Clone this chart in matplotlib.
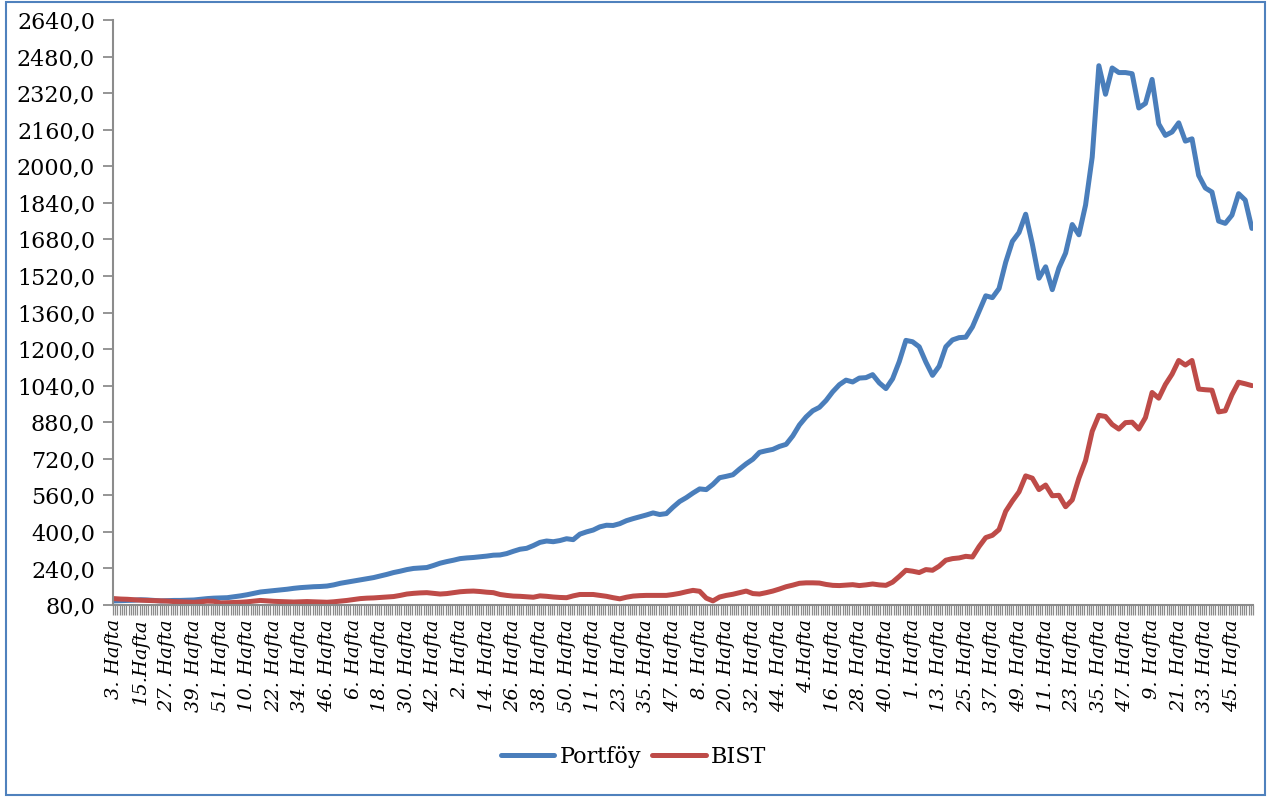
import numpy as np
import matplotlib
matplotlib.use("Agg")
import matplotlib.pyplot as plt
from matplotlib.patches import Rectangle

# Haftalik seri: her 3 haftada bir okunan degerler (0. hafta -> 513. hafta)
hafta_adimi = 3
toplam_hafta = 514

portfoy = [
    98, 99, 100, 101, 103, 102, 100, 98, 99, 100,
    100, 101, 102, 105, 108, 110, 111, 112, 116, 120,
    125, 131, 137, 140, 143, 146, 149, 153, 156, 158,
    160, 161, 163, 168, 175, 180, 185, 190, 195, 200,
    207, 214, 222, 228, 235, 240, 242, 244, 253, 263,
    270, 276, 283, 286, 288, 291, 294, 298, 299, 305,
    315, 324, 328, 340, 354, 360, 357, 362, 370, 366,
    390, 400, 408, 422, 429, 428, 436, 449, 458, 466,
    474, 483, 476, 480, 508, 533, 550, 570, 588, 585,
    608, 637, 643, 650, 675, 698, 718, 748, 755, 761,
    774, 783, 820, 868, 903, 930, 945, 975, 1013, 1044,
    1064, 1056, 1073, 1075, 1088, 1052, 1027, 1070, 1145, 1238,
    1232, 1210, 1143, 1085, 1125, 1210, 1240, 1250, 1252, 1297,
    1365, 1433, 1425, 1465, 1580, 1671, 1710, 1790, 1660, 1510,
    1560, 1460, 1555, 1620, 1745, 1700, 1830, 2040, 2440, 2315,
    2430, 2410, 2410, 2405, 2255, 2275, 2380, 2185, 2135, 2150,
    2190, 2110, 2120, 1960, 1905, 1887, 1760, 1750, 1786, 1880,
    1852, 1728,
]

bist = [
    108, 106, 105, 103, 101, 100, 99, 98, 97, 95,
    94, 93, 92, 94, 97, 96, 89, 90, 91, 92,
    94, 97, 100, 98, 96, 95, 94, 93, 94, 95,
    94, 93, 92, 94, 97, 100, 104, 108, 110, 111,
    113, 115, 117, 122, 128, 131, 133, 134, 131, 128,
    130, 134, 138, 140, 141, 139, 136, 134, 126, 122,
    119, 118, 116, 114, 120, 118, 115, 113, 112, 120,
    126, 126, 126, 122, 118, 112, 107, 114, 119, 121,
    122, 122, 122, 122, 126, 131, 138, 144, 140, 110,
    98, 115, 122, 127, 134, 141, 130, 128, 134, 141,
    150, 160, 167, 175, 177, 177, 176, 170, 166, 165,
    167, 169, 165, 168, 172, 168, 166, 180, 205, 232,
    228, 222, 235, 232, 250, 276, 283, 286, 293, 290,
    336, 375, 385, 410, 490, 535, 575, 645, 635, 585,
    605, 558, 560, 510, 540, 635, 712, 840, 910, 905,
    870, 850, 878, 880, 850, 900, 1010, 985, 1045, 1090,
    1150, 1130, 1150, 1025, 1022, 1020, 925, 930, 1000, 1055,
    1048, 1040,
]

etiketler = [
    "3. Hafta", "15.Hafta", "27. Hafta", "39. Hafta", "51. Hafta",
    "10. Hafta", "22. Hafta", "34. Hafta", "46. Hafta",
    "6. Hafta", "18. Hafta", "30. Hafta", "42. Hafta",
    "2. Hafta", "14. Hafta", "26. Hafta", "38. Hafta", "50. Hafta",
    "11. Hafta", "23. Hafta", "35. Hafta", "47. Hafta",
    "8. Hafta", "20. Hafta", "32. Hafta", "44. Hafta",
    "4.Hafta", "16. Hafta", "28. Hafta", "40. Hafta",
    "1. Hafta", "13. Hafta", "25. Hafta", "37. Hafta", "49. Hafta",
    "11. Hafta", "23. Hafta", "35. Hafta", "47. Hafta",
    "9. Hafta", "21. Hafta", "33. Hafta", "45. Hafta",
]
etiket_araligi = 12

y_ticks = list(range(80, 2641, 160))

plt.rcParams["font.family"] = ["DejaVu Serif"]

fig = plt.figure(figsize=(12.67, 7.97), dpi=100)
ax = fig.add_axes([113 / 1267, 1 - 605 / 797, 1140 / 1267, 585 / 797])

x = np.arange(len(portfoy)) * hafta_adimi
ax.plot(x, portfoy, color="#4A7EBB", lw=3.6, solid_joinstyle="round",
        solid_capstyle="round", label="Portföy")
ax.plot(x, bist, color="#BE4B48", lw=3.6, solid_joinstyle="round",
        solid_capstyle="round", label="BIST")

ax.set_xlim(-0.5, toplam_hafta - 0.5)
ax.set_ylim(80, 2640)

ax.set_yticks(y_ticks)
ax.set_yticklabels([f"{v},0" for v in y_ticks], fontsize=16)
ax.tick_params(axis="y", direction="out", length=7, width=1.3,
               color="#8c8c8c", pad=6)

ax.set_xticks(np.arange(len(etiketler)) * etiket_araligi)
ax.set_xticklabels(etiketler, rotation=90, fontsize=14, style="italic",
                   va="top", ha="center")
ax.tick_params(axis="x", which="major", length=0, pad=10)
ax.set_xticks(np.arange(-0.5, toplam_hafta, 1), minor=True)
ax.tick_params(axis="x", which="minor", direction="out", length=7,
               width=0.9, color="#8c8c8c")

for s in ["top", "right"]:
    ax.spines[s].set_visible(False)
for s in ["left", "bottom"]:
    ax.spines[s].set_color("#8c8c8c")
    ax.spines[s].set_linewidth(1.5)

fig.legend(loc="center", bbox_to_anchor=(0.5, 1 - 757 / 797), ncol=2,
           frameon=False, fontsize=16, handlelength=2.4, handletextpad=0.25,
           columnspacing=0.5)

fig.add_artist(Rectangle((6 / 1267, 2 / 797), 1259 / 1267, 793 / 797,
                         transform=fig.transFigure, fill=False,
                         ec="#4F81BD", lw=1.5))

fig.savefig("out.png", dpi=100)
